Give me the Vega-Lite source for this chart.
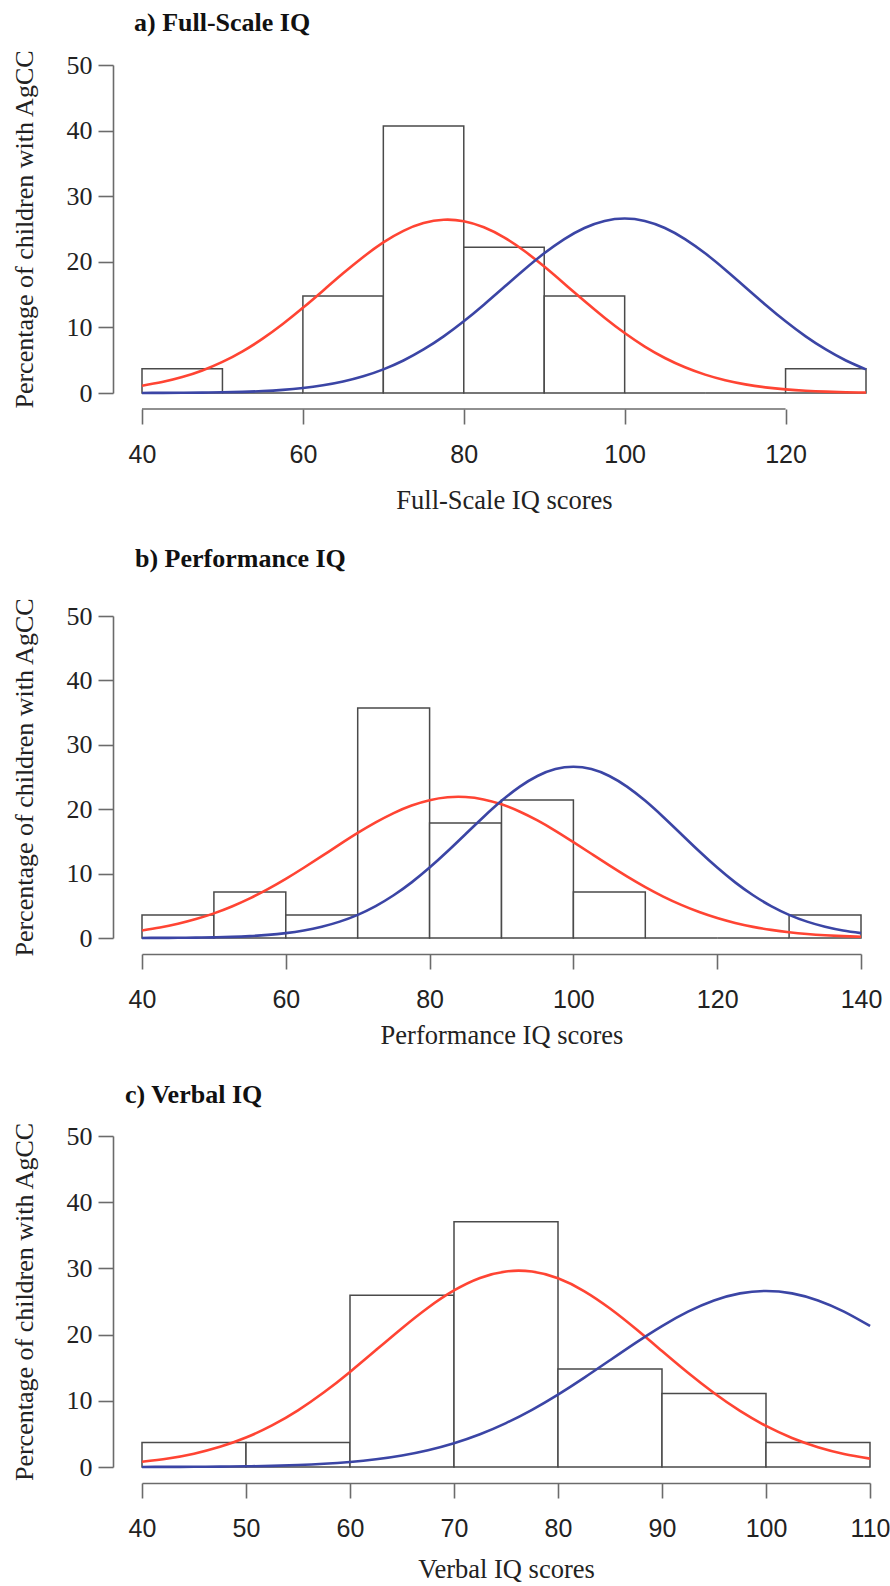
{
  "$schema": "https://vega.github.io/schema/vega-lite/v6.json",
  "background": "white",
  "padding": {"left": 11, "top": 10, "right": 10, "bottom": 0},
  "spacing": 32,
  "config": {
    "view": {"stroke": null},
    "axis": {"grid": false, "domainColor": "#6b6b6b", "tickColor": "#6b6b6b", "domainWidth": 1.6, "tickWidth": 1.6, "labelColor": "#222", "titleColor": "#222", "titleFont": "Liberation Serif", "titleFontWeight": "normal", "titleFontSize": 26, "labelFlush": false, "labelOverlap": false},
    "axisX": {"labelFont": "Liberation Sans", "labelFontSize": 25, "offset": 16, "tickSize": 15, "labelPadding": 18, "titlePadding": 20, "titleFontSize": 26.5},
    "axisY": {"labelFont": "Liberation Serif", "labelFontSize": 26, "offset": 29, "tickSize": 15, "labelPadding": 6, "titlePadding": 29},
    "title": {"font": "Liberation Serif", "fontSize": 26, "fontWeight": "bold", "color": "#111", "anchor": "start", "frame": "group"}
  },
  "datasets": {
    "bars_a": [
      {"lo": 40, "hi": 50, "pct": 3.7}, {"lo": 50, "hi": 60, "pct": 0}, {"lo": 60, "hi": 70, "pct": 14.8},
      {"lo": 70, "hi": 80, "pct": 40.7}, {"lo": 80, "hi": 90, "pct": 22.2}, {"lo": 90, "hi": 100, "pct": 14.8},
      {"lo": 100, "hi": 110, "pct": 0}, {"lo": 110, "hi": 120, "pct": 0}, {"lo": 120, "hi": 130, "pct": 3.7}
    ],
    "bars_b": [
      {"lo": 40, "hi": 50, "pct": 3.57}, {"lo": 50, "hi": 60, "pct": 7.14}, {"lo": 60, "hi": 70, "pct": 3.57},
      {"lo": 70, "hi": 80, "pct": 35.71}, {"lo": 80, "hi": 90, "pct": 17.86}, {"lo": 90, "hi": 100, "pct": 21.43},
      {"lo": 100, "hi": 110, "pct": 7.14}, {"lo": 110, "hi": 120, "pct": 0}, {"lo": 120, "hi": 130, "pct": 0},
      {"lo": 130, "hi": 140, "pct": 3.57}
    ],
    "bars_c": [
      {"lo": 40, "hi": 50, "pct": 3.7}, {"lo": 50, "hi": 60, "pct": 3.7}, {"lo": 60, "hi": 70, "pct": 25.93},
      {"lo": 70, "hi": 80, "pct": 37.04}, {"lo": 80, "hi": 90, "pct": 14.81}, {"lo": 90, "hi": 100, "pct": 11.11},
      {"lo": 100, "hi": 110, "pct": 3.7}
    ],
    "curves_a": [
      {"iq": 40, "pct": 1.113, "curve": "sample"}, {"iq": 42.5, "pct": 1.666, "curve": "sample"}, {"iq": 45, "pct": 2.425, "curve": "sample"}, {"iq": 47.5, "pct": 3.435, "curve": "sample"},
      {"iq": 50, "pct": 4.735, "curve": "sample"}, {"iq": 52.5, "pct": 6.349, "curve": "sample"}, {"iq": 55, "pct": 8.283, "curve": "sample"}, {"iq": 57.5, "pct": 10.51, "curve": "sample"},
      {"iq": 60, "pct": 12.98, "curve": "sample"}, {"iq": 62.5, "pct": 15.6, "curve": "sample"}, {"iq": 65, "pct": 18.24, "curve": "sample"}, {"iq": 67.5, "pct": 20.74, "curve": "sample"},
      {"iq": 70, "pct": 22.96, "curve": "sample"}, {"iq": 72.5, "pct": 24.72, "curve": "sample"}, {"iq": 75, "pct": 25.9, "curve": "sample"}, {"iq": 77.5, "pct": 26.41, "curve": "sample"},
      {"iq": 80, "pct": 26.19, "curve": "sample"}, {"iq": 82.5, "pct": 25.27, "curve": "sample"}, {"iq": 85, "pct": 23.73, "curve": "sample"}, {"iq": 87.5, "pct": 21.68, "curve": "sample"},
      {"iq": 90, "pct": 19.27, "curve": "sample"}, {"iq": 92.5, "pct": 16.66, "curve": "sample"}, {"iq": 95, "pct": 14.02, "curve": "sample"}, {"iq": 97.5, "pct": 11.48, "curve": "sample"},
      {"iq": 100, "pct": 9.14, "curve": "sample"}, {"iq": 102.5, "pct": 7.08, "curve": "sample"}, {"iq": 105, "pct": 5.34, "curve": "sample"}, {"iq": 107.5, "pct": 3.92, "curve": "sample"},
      {"iq": 110, "pct": 2.8, "curve": "sample"}, {"iq": 112.5, "pct": 1.942, "curve": "sample"}, {"iq": 115, "pct": 1.313, "curve": "sample"}, {"iq": 117.5, "pct": 0.863, "curve": "sample"},
      {"iq": 120, "pct": 0.552, "curve": "sample"}, {"iq": 122.5, "pct": 0.343, "curve": "sample"}, {"iq": 125, "pct": 0.208, "curve": "sample"}, {"iq": 127.5, "pct": 0.123, "curve": "sample"},
      {"iq": 130, "pct": 0.07, "curve": "sample"},
      {"iq": 40, "pct": 0.009, "curve": "normative"}, {"iq": 42.5, "pct": 0.017, "curve": "normative"}, {"iq": 45, "pct": 0.032, "curve": "normative"}, {"iq": 47.5, "pct": 0.058, "curve": "normative"},
      {"iq": 50, "pct": 0.103, "curve": "normative"}, {"iq": 52.5, "pct": 0.177, "curve": "normative"}, {"iq": 55, "pct": 0.295, "curve": "normative"}, {"iq": 57.5, "pct": 0.48, "curve": "normative"},
      {"iq": 60, "pct": 0.76, "curve": "normative"}, {"iq": 62.5, "pct": 1.169, "curve": "normative"}, {"iq": 65, "pct": 1.748, "curve": "normative"}, {"iq": 67.5, "pct": 2.543, "curve": "normative"},
      {"iq": 70, "pct": 3.599, "curve": "normative"}, {"iq": 72.5, "pct": 4.955, "curve": "normative"}, {"iq": 75, "pct": 6.634, "curve": "normative"}, {"iq": 77.5, "pct": 8.636, "curve": "normative"},
      {"iq": 80, "pct": 10.934, "curve": "normative"}, {"iq": 82.5, "pct": 13.466, "curve": "normative"}, {"iq": 85, "pct": 16.131, "curve": "normative"}, {"iq": 87.5, "pct": 18.793, "curve": "normative"},
      {"iq": 90, "pct": 21.296, "curve": "normative"}, {"iq": 92.5, "pct": 23.471, "curve": "normative"}, {"iq": 95, "pct": 25.159, "curve": "normative"}, {"iq": 97.5, "pct": 26.229, "curve": "normative"},
      {"iq": 100, "pct": 26.596, "curve": "normative"}, {"iq": 102.5, "pct": 26.229, "curve": "normative"}, {"iq": 105, "pct": 25.159, "curve": "normative"}, {"iq": 107.5, "pct": 23.471, "curve": "normative"},
      {"iq": 110, "pct": 21.296, "curve": "normative"}, {"iq": 112.5, "pct": 18.793, "curve": "normative"}, {"iq": 115, "pct": 16.131, "curve": "normative"}, {"iq": 117.5, "pct": 13.466, "curve": "normative"},
      {"iq": 120, "pct": 10.934, "curve": "normative"}, {"iq": 122.5, "pct": 8.636, "curve": "normative"}, {"iq": 125, "pct": 6.634, "curve": "normative"}, {"iq": 127.5, "pct": 4.955, "curve": "normative"},
      {"iq": 130, "pct": 3.599, "curve": "normative"}
    ],
    "curves_b": [
      {"iq": 40, "pct": 1.178, "curve": "sample"}, {"iq": 42.5, "pct": 1.629, "curve": "sample"}, {"iq": 45, "pct": 2.207, "curve": "sample"}, {"iq": 47.5, "pct": 2.935, "curve": "sample"},
      {"iq": 50, "pct": 3.827, "curve": "sample"}, {"iq": 52.5, "pct": 4.901, "curve": "sample"}, {"iq": 55, "pct": 6.162, "curve": "sample"}, {"iq": 57.5, "pct": 7.595, "curve": "sample"},
      {"iq": 60, "pct": 9.189, "curve": "sample"}, {"iq": 62.5, "pct": 10.91, "curve": "sample"}, {"iq": 65, "pct": 12.71, "curve": "sample"}, {"iq": 67.5, "pct": 14.53, "curve": "sample"},
      {"iq": 70, "pct": 16.31, "curve": "sample"}, {"iq": 72.5, "pct": 17.95, "curve": "sample"}, {"iq": 75, "pct": 19.4, "curve": "sample"}, {"iq": 77.5, "pct": 20.57, "curve": "sample"},
      {"iq": 80, "pct": 21.4, "curve": "sample"}, {"iq": 82.5, "pct": 21.85, "curve": "sample"}, {"iq": 85, "pct": 21.89, "curve": "sample"}, {"iq": 87.5, "pct": 21.52, "curve": "sample"},
      {"iq": 90, "pct": 20.76, "curve": "sample"}, {"iq": 92.5, "pct": 19.65, "curve": "sample"}, {"iq": 95, "pct": 18.26, "curve": "sample"}, {"iq": 97.5, "pct": 16.65, "curve": "sample"},
      {"iq": 100, "pct": 14.89, "curve": "sample"}, {"iq": 102.5, "pct": 13.08, "curve": "sample"}, {"iq": 105, "pct": 11.27, "curve": "sample"}, {"iq": 107.5, "pct": 9.524, "curve": "sample"},
      {"iq": 110, "pct": 7.9, "curve": "sample"}, {"iq": 112.5, "pct": 6.431, "curve": "sample"}, {"iq": 115, "pct": 5.14, "curve": "sample"}, {"iq": 117.5, "pct": 4.029, "curve": "sample"},
      {"iq": 120, "pct": 3.1, "curve": "sample"}, {"iq": 122.5, "pct": 2.339, "curve": "sample"}, {"iq": 125, "pct": 1.73, "curve": "sample"}, {"iq": 127.5, "pct": 1.26, "curve": "sample"},
      {"iq": 130, "pct": 0.899, "curve": "sample"}, {"iq": 132.5, "pct": 0.629, "curve": "sample"}, {"iq": 135, "pct": 0.432, "curve": "sample"}, {"iq": 137.5, "pct": 0.291, "curve": "sample"},
      {"iq": 140, "pct": 0.193, "curve": "sample"},
      {"iq": 40, "pct": 0.009, "curve": "normative"}, {"iq": 42.5, "pct": 0.017, "curve": "normative"}, {"iq": 45, "pct": 0.032, "curve": "normative"}, {"iq": 47.5, "pct": 0.058, "curve": "normative"},
      {"iq": 50, "pct": 0.103, "curve": "normative"}, {"iq": 52.5, "pct": 0.177, "curve": "normative"}, {"iq": 55, "pct": 0.295, "curve": "normative"}, {"iq": 57.5, "pct": 0.48, "curve": "normative"},
      {"iq": 60, "pct": 0.76, "curve": "normative"}, {"iq": 62.5, "pct": 1.169, "curve": "normative"}, {"iq": 65, "pct": 1.748, "curve": "normative"}, {"iq": 67.5, "pct": 2.543, "curve": "normative"},
      {"iq": 70, "pct": 3.599, "curve": "normative"}, {"iq": 72.5, "pct": 4.955, "curve": "normative"}, {"iq": 75, "pct": 6.634, "curve": "normative"}, {"iq": 77.5, "pct": 8.636, "curve": "normative"},
      {"iq": 80, "pct": 10.934, "curve": "normative"}, {"iq": 82.5, "pct": 13.466, "curve": "normative"}, {"iq": 85, "pct": 16.131, "curve": "normative"}, {"iq": 87.5, "pct": 18.793, "curve": "normative"},
      {"iq": 90, "pct": 21.296, "curve": "normative"}, {"iq": 92.5, "pct": 23.471, "curve": "normative"}, {"iq": 95, "pct": 25.159, "curve": "normative"}, {"iq": 97.5, "pct": 26.229, "curve": "normative"},
      {"iq": 100, "pct": 26.596, "curve": "normative"}, {"iq": 102.5, "pct": 26.229, "curve": "normative"}, {"iq": 105, "pct": 25.159, "curve": "normative"}, {"iq": 107.5, "pct": 23.471, "curve": "normative"},
      {"iq": 110, "pct": 21.296, "curve": "normative"}, {"iq": 112.5, "pct": 18.793, "curve": "normative"}, {"iq": 115, "pct": 16.131, "curve": "normative"}, {"iq": 117.5, "pct": 13.466, "curve": "normative"},
      {"iq": 120, "pct": 10.934, "curve": "normative"}, {"iq": 122.5, "pct": 8.636, "curve": "normative"}, {"iq": 125, "pct": 6.634, "curve": "normative"}, {"iq": 127.5, "pct": 4.955, "curve": "normative"},
      {"iq": 130, "pct": 3.599, "curve": "normative"}, {"iq": 132.5, "pct": 2.543, "curve": "normative"}, {"iq": 135, "pct": 1.748, "curve": "normative"}, {"iq": 137.5, "pct": 1.169, "curve": "normative"},
      {"iq": 140, "pct": 0.76, "curve": "normative"}
    ],
    "curves_c": [
      {"iq": 40, "pct": 0.793, "curve": "sample"}, {"iq": 42.5, "pct": 1.285, "curve": "sample"}, {"iq": 45, "pct": 2.012, "curve": "sample"}, {"iq": 47.5, "pct": 3.044, "curve": "sample"},
      {"iq": 50, "pct": 4.449, "curve": "sample"}, {"iq": 52.5, "pct": 6.279, "curve": "sample"}, {"iq": 55, "pct": 8.563, "curve": "sample"}, {"iq": 57.5, "pct": 11.28, "curve": "sample"},
      {"iq": 60, "pct": 14.36, "curve": "sample"}, {"iq": 62.5, "pct": 17.66, "curve": "sample"}, {"iq": 65, "pct": 20.97, "curve": "sample"}, {"iq": 67.5, "pct": 24.06, "curve": "sample"},
      {"iq": 70, "pct": 26.67, "curve": "sample"}, {"iq": 72.5, "pct": 28.56, "curve": "sample"}, {"iq": 75, "pct": 29.54, "curve": "sample"}, {"iq": 77.5, "pct": 29.52, "curve": "sample"},
      {"iq": 80, "pct": 28.5, "curve": "sample"}, {"iq": 82.5, "pct": 26.58, "curve": "sample"}, {"iq": 85, "pct": 23.94, "curve": "sample"}, {"iq": 87.5, "pct": 20.84, "curve": "sample"},
      {"iq": 90, "pct": 17.52, "curve": "sample"}, {"iq": 92.5, "pct": 14.23, "curve": "sample"}, {"iq": 95, "pct": 11.17, "curve": "sample"}, {"iq": 97.5, "pct": 8.465, "curve": "sample"},
      {"iq": 100, "pct": 6.199, "curve": "sample"}, {"iq": 102.5, "pct": 4.384, "curve": "sample"}, {"iq": 105, "pct": 2.996, "curve": "sample"}, {"iq": 107.5, "pct": 1.978, "curve": "sample"},
      {"iq": 110, "pct": 1.261, "curve": "sample"},
      {"iq": 40, "pct": 0.009, "curve": "normative"}, {"iq": 42.5, "pct": 0.017, "curve": "normative"}, {"iq": 45, "pct": 0.032, "curve": "normative"}, {"iq": 47.5, "pct": 0.058, "curve": "normative"},
      {"iq": 50, "pct": 0.103, "curve": "normative"}, {"iq": 52.5, "pct": 0.177, "curve": "normative"}, {"iq": 55, "pct": 0.295, "curve": "normative"}, {"iq": 57.5, "pct": 0.48, "curve": "normative"},
      {"iq": 60, "pct": 0.76, "curve": "normative"}, {"iq": 62.5, "pct": 1.169, "curve": "normative"}, {"iq": 65, "pct": 1.748, "curve": "normative"}, {"iq": 67.5, "pct": 2.543, "curve": "normative"},
      {"iq": 70, "pct": 3.599, "curve": "normative"}, {"iq": 72.5, "pct": 4.955, "curve": "normative"}, {"iq": 75, "pct": 6.634, "curve": "normative"}, {"iq": 77.5, "pct": 8.636, "curve": "normative"},
      {"iq": 80, "pct": 10.934, "curve": "normative"}, {"iq": 82.5, "pct": 13.466, "curve": "normative"}, {"iq": 85, "pct": 16.131, "curve": "normative"}, {"iq": 87.5, "pct": 18.793, "curve": "normative"},
      {"iq": 90, "pct": 21.296, "curve": "normative"}, {"iq": 92.5, "pct": 23.471, "curve": "normative"}, {"iq": 95, "pct": 25.159, "curve": "normative"}, {"iq": 97.5, "pct": 26.229, "curve": "normative"},
      {"iq": 100, "pct": 26.596, "curve": "normative"}, {"iq": 102.5, "pct": 26.229, "curve": "normative"}, {"iq": 105, "pct": 25.159, "curve": "normative"}, {"iq": 107.5, "pct": 23.471, "curve": "normative"},
      {"iq": 110, "pct": 21.296, "curve": "normative"}
    ]
  },
  "vconcat": [
    {
      "width": 724, "height": 328,
      "title": {"text": "a) Full-Scale IQ", "dx": -8, "offset": 13},
      "layer": [
        {
          "data": {"name": "bars_a"},
          "mark": {"type": "rect", "fill": "white", "stroke": "#4a4a4a", "strokeWidth": 1.5},
          "encoding": {
            "x": {"field": "lo", "type": "quantitative", "scale": {"domain": [40, 130], "nice": false, "zero": false}, "axis": {"values": [40, 60, 80, 100, 120], "domain": false, "title": "Full-Scale IQ scores"}},
            "x2": {"field": "hi"},
            "y": {"field": "pct", "type": "quantitative", "scale": {"domain": [0, 50], "nice": false}, "axis": {"values": [0, 10, 20, 30, 40, 50], "title": "Percentage of children with AgCC"}},
            "y2": {"datum": 0}
          }
        },
        {
          "data": {"name": "curves_a"},
          "mark": {"type": "line", "interpolate": "natural", "strokeWidth": 2.6},
          "encoding": {
            "x": {"field": "iq", "type": "quantitative"},
            "y": {"field": "pct", "type": "quantitative"},
            "color": {"field": "curve", "type": "nominal", "scale": {"domain": ["sample", "normative"], "range": ["#ff4433", "#3b45a5"]}, "legend": null}
          }
        },
        {
          "data": {"values": [{}]},
          "mark": {"type": "rule", "color": "#6b6b6b", "strokeWidth": 1.6},
          "encoding": {"x": {"datum": 40}, "x2": {"datum": 120}, "y": {"datum": -2.44}}
        }
      ]
    },
    {
      "width": 719, "height": 322,
      "title": {"text": "b) Performance IQ", "dx": -7, "offset": 25},
      "layer": [
        {
          "data": {"name": "bars_b"},
          "mark": {"type": "rect", "fill": "white", "stroke": "#4a4a4a", "strokeWidth": 1.5},
          "encoding": {
            "x": {"field": "lo", "type": "quantitative", "scale": {"domain": [40, 140], "nice": false, "zero": false}, "axis": {"values": [40, 60, 80, 100, 120, 140], "title": "Performance IQ scores", "titlePadding": 10}},
            "x2": {"field": "hi"},
            "y": {"field": "pct", "type": "quantitative", "scale": {"domain": [0, 50], "nice": false}, "axis": {"values": [0, 10, 20, 30, 40, 50], "title": "Percentage of children with AgCC"}},
            "y2": {"datum": 0}
          }
        },
        {
          "data": {"name": "curves_b"},
          "mark": {"type": "line", "interpolate": "natural", "strokeWidth": 2.6},
          "encoding": {
            "x": {"field": "iq", "type": "quantitative"},
            "y": {"field": "pct", "type": "quantitative"},
            "color": {"field": "curve", "type": "nominal", "scale": {"domain": ["sample", "normative"], "range": ["#ff4433", "#3b45a5"]}, "legend": null}
          }
        }
      ]
    },
    {
      "width": 728, "height": 331,
      "title": {"text": "c) Verbal IQ", "dx": -17, "offset": 14},
      "layer": [
        {
          "data": {"name": "bars_c"},
          "mark": {"type": "rect", "fill": "white", "stroke": "#4a4a4a", "strokeWidth": 1.5},
          "encoding": {
            "x": {"field": "lo", "type": "quantitative", "scale": {"domain": [40, 110], "nice": false, "zero": false}, "axis": {"values": [40, 50, 60, 70, 80, 90, 100, 110], "title": "Verbal IQ scores", "titlePadding": 15}},
            "x2": {"field": "hi"},
            "y": {"field": "pct", "type": "quantitative", "scale": {"domain": [0, 50], "nice": false}, "axis": {"values": [0, 10, 20, 30, 40, 50], "title": "Percentage of children with AgCC"}},
            "y2": {"datum": 0}
          }
        },
        {
          "data": {"name": "curves_c"},
          "mark": {"type": "line", "interpolate": "natural", "strokeWidth": 2.6},
          "encoding": {
            "x": {"field": "iq", "type": "quantitative"},
            "y": {"field": "pct", "type": "quantitative"},
            "color": {"field": "curve", "type": "nominal", "scale": {"domain": ["sample", "normative"], "range": ["#ff4433", "#3b45a5"]}, "legend": null}
          }
        }
      ]
    }
  ]
}
